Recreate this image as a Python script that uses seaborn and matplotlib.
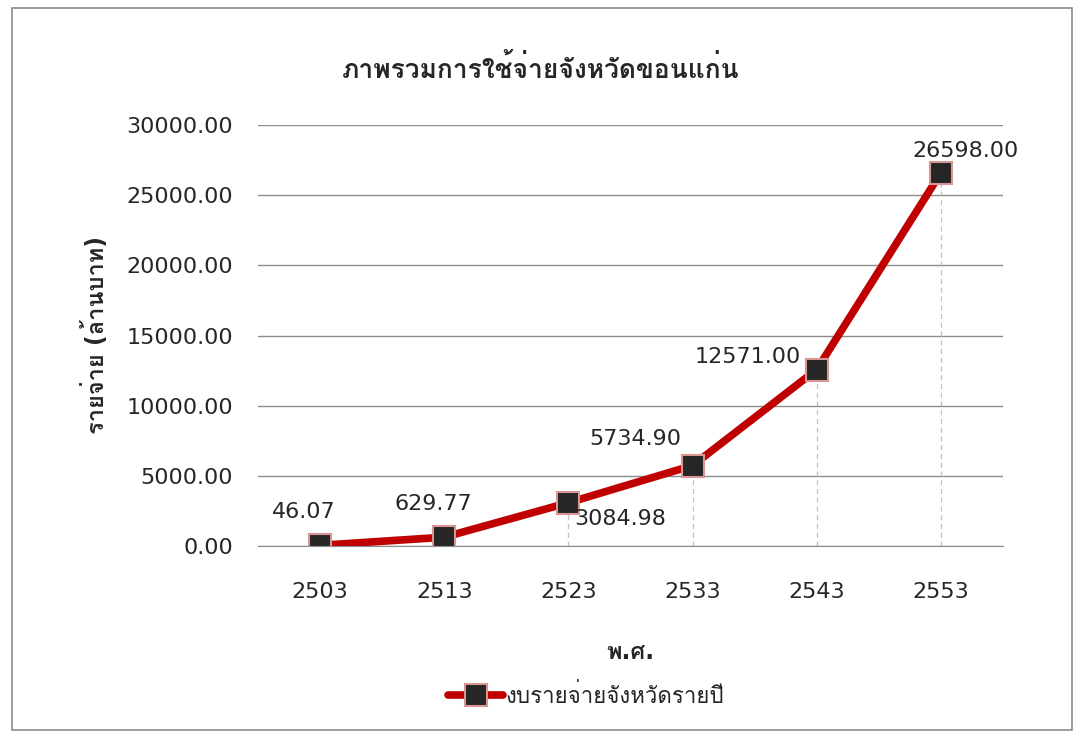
import matplotlib
matplotlib.use("Agg")
import matplotlib.pyplot as plt
from matplotlib import font_manager
from matplotlib.ft2font import FT2Font
import seaborn as sns
import pandas as pd

years = ["2503", "2513", "2523", "2533", "2543", "2553"]
spending = [46.07, 629.77, 3084.98, 5734.90, 12571.00, 26598.00]
title = "ภาพรวมการใช้จ่ายจังหวัดขอนแก่น"
x_label = "พ.ศ."
y_label = "รายจ่าย (ล้านบาท)"
series_name = "งบรายจ่ายจังหวัดรายปี"

# find installed families that can draw Thai
thai = []
for f in font_manager.fontManager.ttflist:
    try:
        if 0x0E01 in FT2Font(f.fname).get_charmap() and f.name not in thai:
            thai.append(f.name)
    except Exception:
        pass

sns.set_style("white")
plt.rcParams['font.family'] = ['DejaVu Sans'] + thai

df = pd.DataFrame({"year": years, "value": spending, "series": series_name})

fig = plt.figure(figsize=(10.81, 7.36), dpi=100)
ax = fig.add_axes([258 / 1081, 1 - 546 / 736, (1003 - 258) / 1081, (546 - 125) / 736])

sns.lineplot(data=df, x="year", y="value", hue="series", palette=["#C00000"],
             linewidth=5.5, marker="s", markersize=16, markerfacecolor="#262626",
             markeredgecolor="#D99594", markeredgewidth=1.5, sort=False, ax=ax)

ax.set_xlim(-0.5, len(years) - 0.5)
ax.set_ylim(0, 30000)
ax.set_yticks(range(0, 30001, 5000))
ax.yaxis.set_major_formatter(matplotlib.ticker.StrMethodFormatter("{x:.2f}"))
ax.grid(axis="y", color="#8c8c8c", linewidth=1)
ax.set_axisbelow(True)
for s in ["top", "right", "left"]:
    ax.spines[s].set_visible(False)
ax.spines["bottom"].set_color("#8c8c8c")
ax.tick_params(axis="both", length=0, labelsize=16, colors="#262626")
ax.tick_params(axis="y", pad=18)
ax.tick_params(axis="x", pad=26)

# drop lines
for i, v in enumerate(spending):
    ax.plot([i, i], [0, v], ls=(0, (4, 3)), color="#bfbfbf", lw=0.9, zorder=1)

# data labels
offsets = [(-12, 24), (-8, 24), (37, -12), (-41, 19), (-50, 9), (18, 16)]
for i, v in enumerate(spending):
    dx, dy = offsets[i]
    ax.annotate(f"{v:.2f}", (i, v), xytext=(dx, dy), textcoords="offset points",
                ha="center", va="center", fontsize=16, color="#262626")

ax.set_xlabel(x_label, fontsize=17, fontweight="bold")
ax.xaxis.set_label_coords(0.5, (546 - 640) / 421)
ax.set_ylabel(y_label, fontsize=17, fontweight="bold", va="center")
ax.yaxis.set_label_coords((95 - 258) / 745, 0.5)
fig.text(0.5, 1 - 70 / 736, title, ha="center", va="center", fontsize=19, fontweight="bold")

leg = ax.legend(loc="center", bbox_to_anchor=((586 - 258) / 745, (546 - 695) / 421),
                frameon=False, fontsize=16, handlelength=2.5, handletextpad=0.1)

fig.patches.append(plt.Rectangle((12 / 1081, 6 / 736), 1060 / 1081, 722 / 736,
                                 transform=fig.transFigure, fill=False,
                                 edgecolor="#8c8c8c", lw=1.2))

fig.savefig("out.png", dpi=100)
